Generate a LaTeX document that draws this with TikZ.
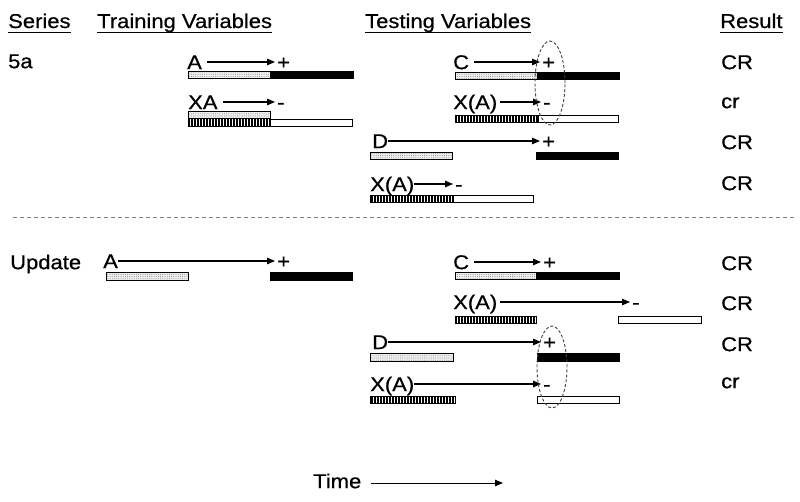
\documentclass[tikz,border=0pt]{standalone}
\usepackage{fontspec}
\setmainfont[FakeStretch=1.1,FakeBold=0.6]{Liberation Sans}
\usetikzlibrary{arrows.meta,patterns.meta,shapes.geometric}

\begin{document}
\begin{tikzpicture}[x=1pt, y=-1pt, font=\fontsize{20}{23}\selectfont,
  lbl/.style={inner sep=0pt, text height=14.3pt, text depth=0pt, anchor=west},
  hdr/.style={inner sep=0pt, text depth=4.5pt, anchor=base west},
  outc/.style={lbl, inner xsep=2pt},
  cue/.style={line width=1.2pt, -{Triangle[length=8pt,width=6.5pt]}},
  gap/.style={shorten <=5pt},
  bx/.style={draw, line width=0.8pt},
  dotbar/.style={bx, preaction={fill=gray!12}, pattern={Dots[distance=2.2pt,radius=0.5pt]}, pattern color=gray},
  hatchbar/.style={bx, preaction={fill=white}, pattern={Lines[angle=90,distance=3pt,line width=1.5pt]}},
  usbar/.style={bx, fill=black},
  nobar/.style={bx, fill=white},
  oval/.style={draw=black!75, dash pattern=on 3pt off 2pt, line width=0.9pt, ellipse, minimum width=30pt, minimum height=84pt}]
\useasboundingbox (0,0) rectangle (800,501);

\node[hdr] (h1) at (8,28) {Series};
\node[hdr] (h2) at (97,28) {Training Variables};
\node[hdr] (h3) at (365,28) {Testing Variables};
\node[hdr] (h4) at (720,28) {Result};
\foreach \n in {h1,h2,h3,h4}
  \draw[line width=1.3pt] (\n.south west) -- (\n.south east);

\node[lbl] (s1) at (8,61) {5a};
\node[lbl] (a1) at (187,62) {A};
\node[outc] (a1p) at (275,62) {+};
\draw[cue,gap] (a1) -- (a1p);
\draw[dotbar] (188,71.5) rectangle (270,78.5);
\draw[usbar] (270,71.5) rectangle (353,78.5);

\node[lbl] (xa1) at (188,102) {XA};
\node[outc] (xa1m) at (275,102) {-};
\draw[cue,gap] (xa1) -- (xa1m);
\draw[dotbar] (188,111) rectangle (270,118);
\draw[hatchbar] (188,118.5) rectangle (270,126.5);
\draw[nobar] (270,119) rectangle (352,126.5);

\node[lbl] (c1) at (453,62) {C};
\node[outc] (c1p) at (540,62) {+};
\draw[cue,gap] (c1) -- (c1p);
\draw[dotbar] (455,72) rectangle (537,79);
\draw[usbar] (537,72) rectangle (619,79);

\node[lbl] (x1) at (453,102) {X(A)};
\node[outc] (x1m) at (541,102) {-};
\draw[cue,shorten <=3pt] (x1) -- (x1m);
\draw[hatchbar] (455,115) rectangle (538,122);
\draw[nobar] (538,115) rectangle (618,122);

\node[lbl] (d1) at (372,141) {D};
\node[outc] (d1p) at (540,141) {+};
\draw[cue] (d1) -- (d1p);
\draw[dotbar] (370,152) rectangle (452,159);
\draw[usbar] (536,152) rectangle (618,159);

\node[lbl] (x2) at (370,184) {X(A)};
\node[outc] (x2m) at (453,184) {-};
\draw[cue] (x2) -- (x2m);
\draw[hatchbar] (370,195) rectangle (453,202);
\draw[nobar] (453,195) rectangle (533,202);

\node[oval] (o1) at (550,83) {};

\node[lbl] (r1) at (721,62) {CR};
\node[lbl] (r2) at (721,101) {cr};
\node[lbl] (r3) at (721,142) {CR};
\node[lbl] (r4) at (721,183) {CR};

\draw[gray, line width=0.8pt, dash pattern=on 4pt off 3pt] (13,217) -- (797,217);

\node[lbl] (s2) at (10,262) {Update};
\node[lbl] (a2) at (103,261) {A};
\node[outc] (a2p) at (275,261) {+};
\draw[cue] (a2) -- (a2p);
\draw[dotbar] (106,272.5) rectangle (188,280);
\draw[usbar] (270,272.5) rectangle (352,280);

\node[lbl] (c2) at (453,262) {C};
\node[outc] (c2p) at (541,262) {+};
\draw[cue,gap] (c2) -- (c2p);
\draw[dotbar] (455,272) rectangle (536,279);
\draw[usbar] (536,272) rectangle (619,279);

\node[lbl] (x3) at (453,302) {X(A)};
\node[outc] (x3m) at (630,302) {-};
\draw[cue,shorten <=3pt] (x3) -- (x3m);
\draw[hatchbar] (455,316) rectangle (536,323);
\draw[nobar] (618,316) rectangle (701,323);

\node[lbl] (d2) at (372,342) {D};
\node[outc] (d2p) at (541,342) {+};
\draw[cue] (d2) -- (d2p);
\draw[dotbar] (370,353.5) rectangle (453,361);
\draw[usbar] (537,353.5) rectangle (619,361);

\node[lbl] (x4) at (370,384) {X(A)};
\node[outc] (x4m) at (541,384) {-};
\draw[cue] (x4) -- (x4m);
\draw[hatchbar] (370,396.5) rectangle (455,403.5);
\draw[nobar] (537,396.5) rectangle (619,403.5);

\node[oval, minimum height=82pt] (o2) at (552,367) {};

\node[lbl] (r5) at (721,263) {CR};
\node[lbl] (r6) at (721,303) {CR};
\node[lbl] (r7) at (721,344) {CR};
\node[lbl] (r8) at (721,381) {cr};

\node[lbl] (t) at (313,481) {Time};
\coordinate (tend) at (503,483);
\draw[cue, line width=1pt, shorten <=10pt] (t.east |- tend) -- (tend);
\end{tikzpicture}
\end{document}
